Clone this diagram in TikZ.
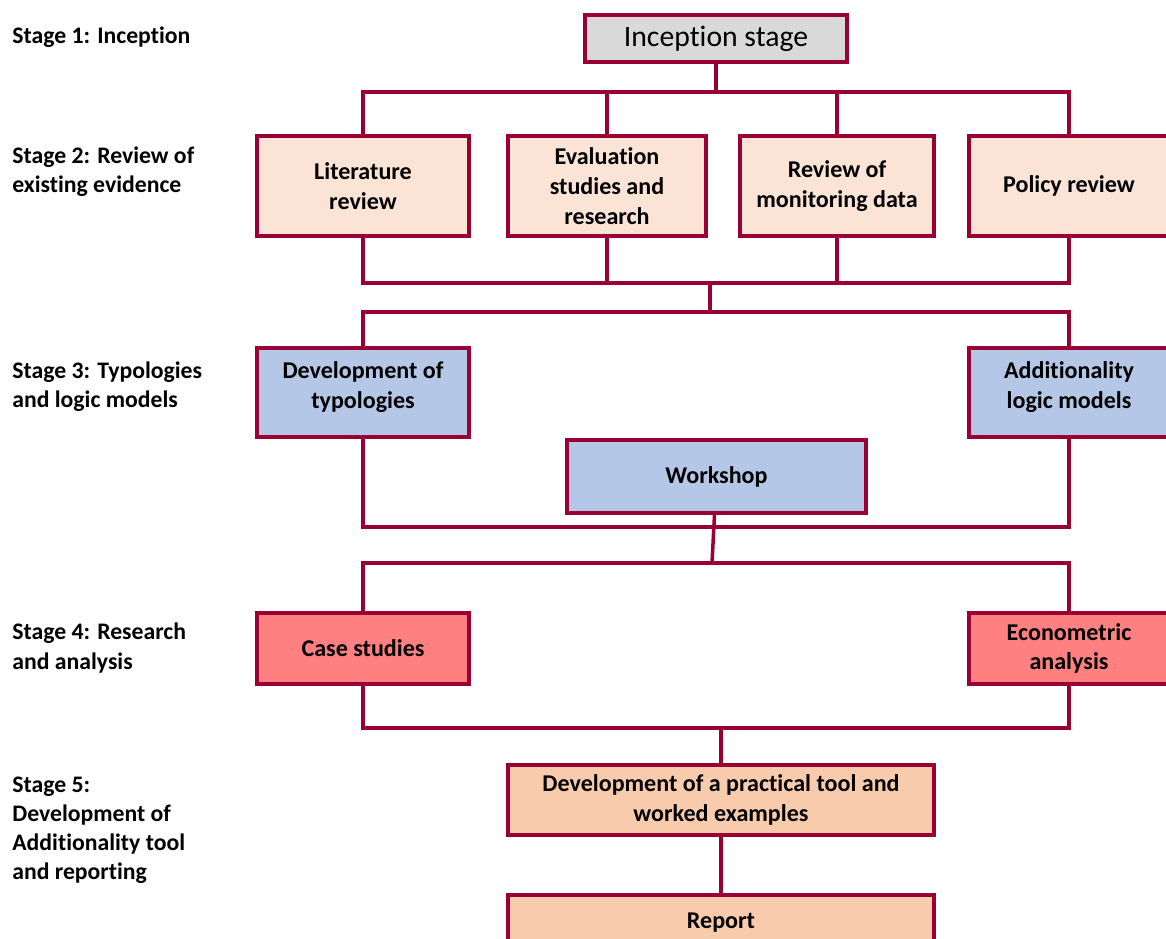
\documentclass[tikz,border=0pt]{standalone}
\usepackage{fontspec}
\setmainfont{Carlito}[RawFeature={-liga}]
\definecolor{edge}{RGB}{153,0,51}
\definecolor{peach}{RGB}{251,228,213}
\definecolor{lblue}{RGB}{180,199,231}
\definecolor{salmon}{RGB}{255,128,128}
\definecolor{tan}{RGB}{248,203,173}
\definecolor{lgray}{RGB}{217,217,217}
\begin{document}
\begin{tikzpicture}[
  x=0.02cm, y=-0.02cm,
  box/.style={draw=edge, line width=2.4pt, align=center, inner sep=2pt,
    font=\bfseries\fontsize{13.7}{17}\selectfont},
  stage/.style={anchor=west, align=left, inner sep=0pt,
    font=\bfseries\fontsize{13.5}{16.6}\selectfont},
  link/.style={draw=edge, line width=2pt}
]
\useasboundingbox (0,0) rectangle (1166,939);
\clip (0,0) rectangle (1166,939);
% stage labels
\node[stage] (s1) at (12,37) {Stage 1: Inception};
\node[stage] (s2) at (12,172) {Stage 2: Review of\\existing evidence};
\node[stage] (s3) at (12,387) {Stage 3: Typologies\\and logic models};
\node[stage] (s4) at (12,648) {Stage 4: Research\\and analysis};
\node[stage] (s5) at (12,830) {Stage 5:\\Development of\\Additionality tool\\and reporting};
% boxes
\node[box, fill=lgray, minimum width=5.24cm, minimum height=0.94cm,
  font=\fontsize{16.9}{19}\selectfont] (inc) at (716,38.5) {Inception stage};
\node[box, fill=peach, minimum width=4.24cm, minimum height=2cm] (lit) at (363,186) {Literature\\review};
\node[box, fill=peach, minimum width=3.96cm, minimum height=2cm] (eval) at (607,186) {Evaluation\\studies and\\research};
\node[box, fill=peach, minimum width=3.88cm, minimum height=2cm] (mon) at (837,186) {Review of\\monitoring data};
\node[box, fill=peach, minimum width=4cm, minimum height=2cm] (pol) at (1069,186) {Policy review};
\node[box, fill=lblue, minimum width=4.24cm, minimum height=1.78cm, text depth=0.3cm] (typ) at (363,392.5) {Development of\\typologies};
\node[box, fill=lblue, minimum width=4cm, minimum height=1.78cm, text depth=0.3cm] (add) at (1069,392.5) {Additionality\\logic models};
\node[box, fill=lblue, minimum width=5.98cm, minimum height=1.46cm] (ws) at (716.5,476.5) {Workshop};
\node[box, fill=salmon, minimum width=4.24cm, minimum height=1.42cm] (case) at (363,648.5) {Case studies};
\node[box, fill=salmon, minimum width=4cm, minimum height=1.42cm] (eco) at (1069,648.5) {Econometric\\analysis};
\node[box, fill=tan, minimum width=8.52cm, minimum height=1.4cm] (tool) at (721,800) {Development of a practical tool and\\worked examples};
\node[box, fill=tan, minimum width=8.52cm, minimum height=1.4cm, text depth=0.38cm] (rep) at (721,930) {Report};
% stage 1 -> 2
\coordinate (top2) at (716,92);
\draw[link] (inc) -- (top2);
\foreach \n in {lit,eval,mon,pol} \draw[link] (top2) -| (\n.north);
% stage 2 -> 3
\coordinate (mid2) at (710,283);
\coordinate (top3) at (710,312);
\foreach \n in {lit,eval,mon,pol} \draw[link] (\n.south) |- (mid2);
\draw[link] (mid2) -- (top3);
\foreach \n in {typ,add} \draw[link] (top3) -| (\n.north);
% stage 3 -> 4
\coordinate (mid3) at (712,527);
\coordinate (top4) at (712,563);
\foreach \n in {typ,add} \draw[link] (\n.south) |- (mid3);
\draw[link] (ws) -- (top4);
\foreach \n in {case,eco} \draw[link] (top4) -| (\n.north);
% stage 4 -> 5
\coordinate (mid4) at (721,728);
\foreach \n in {case,eco} \draw[link] (\n.south) |- (mid4);
\draw[link] (mid4) -- (tool);
\draw[link] (tool) -- (rep);
\end{tikzpicture}
\end{document}
